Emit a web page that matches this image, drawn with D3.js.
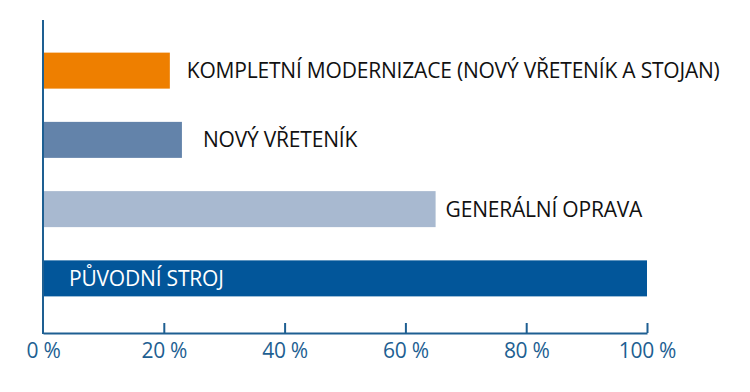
<!DOCTYPE html>
<html><head><meta charset="utf-8">
<script src="https://cdn.jsdelivr.net/npm/d3@7"></script>
<style>body{margin:0;background:#fff}svg{display:block}</style>
</head><body><svg id="c" width="750" height="392"></svg>
<script>
const categories = ["KOMPLETNÍ MODERNIZACE (NOVÝ VŘETENÍK A STOJAN)", "NOVÝ VŘETENÍK", "GENERÁLNÍ OPRAVA", "PŮVODNÍ STROJ"];
const values = [21, 23, 65, 100];
const colors = ["#EE7F00", "#6383AA", "#A8B9D0", "#02569A"];
const tickValues = [0, 20, 40, 60, 80, 100];
const tickLabels = ["0 %", "20 %", "40 %", "60 %", "80 %", "100 %"];

const svg = d3.select("#c");
const axisColor = "#1E5F92";
const x = d3.scaleLinear().domain([0, 100]).range([43, 647]);
const y = d3.scaleBand().domain(categories).range([36, 313]).paddingInner(0.48).paddingOuter(0.24);
const baseY = 333;

svg.selectAll("rect.bar").data(categories).enter().append("rect")
  .attr("class", "bar")
  .attr("x", x(0))
  .attr("y", d => y(d))
  .attr("width", (d, i) => x(values[i]) - x(0))
  .attr("height", y.bandwidth())
  .attr("fill", (d, i) => colors[i]);

const font = "'Open Sans', sans-serif";
svg.selectAll("text.lab").data(categories).enter().append("text")
  .attr("class", "lab")
  .attr("x", (d, i) => values[i] >= 100 ? x(0) + 26 : x(values[i]) + [17, 21, 10][i])
  .attr("y", d => y(d) + y.bandwidth() / 2)
  .attr("dy", "0.36em")
  .attr("font-family", font)
  .attr("font-size", 21)
  .attr("letter-spacing", -0.2)
  .attr("fill", (d, i) => values[i] >= 100 ? "#fff" : "#111")
  .text(d => d);

// axes
const xAxis = d3.axisBottom(x).tickValues(tickValues).tickSize(-10).tickFormat((d, i) => tickLabels[i]).tickSizeOuter(0);
const g = svg.append("g").attr("transform", `translate(0,${baseY})`).call(xAxis);
g.select(".domain").attr("stroke", axisColor).attr("stroke-width", 2);
g.selectAll(".tick line").attr("stroke", axisColor).attr("stroke-width", 2);
g.selectAll(".tick").filter(d => d === 0).select("line").remove();
g.selectAll(".tick text").attr("fill", axisColor).attr("font-family", font)
  .attr("font-size", 21).attr("letter-spacing", -0.3).attr("y", 10);

svg.append("line").attr("x1", x(0)).attr("x2", x(0)).attr("y1", 20).attr("y2", baseY + 1)
  .attr("stroke", axisColor).attr("stroke-width", 2);
</script></body></html>
